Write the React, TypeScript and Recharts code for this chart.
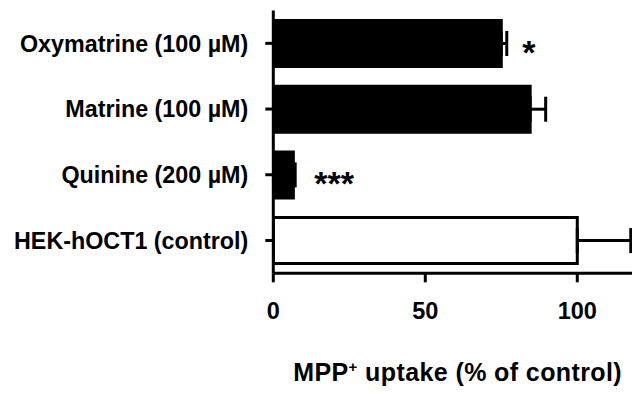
import React from 'react';
import { BarChart, Bar, XAxis, YAxis, ErrorBar, Cell, LabelList, Label } from 'recharts';

const categories = ['Oxymatrine (100 µM)', 'Matrine (100 µM)', 'Quinine (200 µM)', 'HEK-hOCT1 (control)'];
const uptake = [75.0, 84.5, 6.6, 100];
const errorUp = [1.8, 5.1, 0.6, 17.6];
const significance = ['*', '', '***', ''];
const barFills = ['#000000', '#000000', '#000000', '#ffffff'];
const xTicks = [0, 50, 100];

const data = categories.map((name, i) => ({
  name,
  value: uptake[i],
  err: [0, errorUp[i]],
  sig: significance[i],
}));

const FONT = '"Liberation Sans", Arial, Helvetica, sans-serif';

const YTick = (props: any) => {
  const { x, y, payload } = props;
  return (
    <text x={x} y={y} dy="0.36em" textAnchor="end" fontFamily={FONT} fontWeight="bold" fontSize={23.3} fill="#000">
      {payload.value}
    </text>
  );
};

const XTick = (props: any) => {
  const { x, y, payload } = props;
  return (
    <text x={x} y={y} dy="0.71em" textAnchor="middle" fontFamily={FONT} fontWeight="bold" fontSize={23.5} fill="#000">
      {payload.value}
    </text>
  );
};

const Title = (props: any) => {
  const vb = props.viewBox || { x: 0, y: 0, width: 0, height: 0 };
  const cx = vb.x + vb.width / 2 + 5;
  const by = vb.y + 108;
  return (
    <text x={cx} y={by} textAnchor="middle" fontFamily={FONT} fontWeight="bold" fontSize={25} letterSpacing={0.4} fill="#000">
      <tspan>MPP</tspan>
      <tspan fontSize={15} dy={-9}>+</tspan>
      <tspan dy={9}> uptake (% of control)</tspan>
    </text>
  );
};

const Sig = (props: any) => {
  const { x, y, width, height, value } = props;
  if (!value) return null;
  return (
    <text x={x + width + 21} y={y + height / 2 + 20} textAnchor="start" fontFamily={FONT} fontWeight="bold" fontSize={34} fill="#000">
      {value}
    </text>
  );
};

export default function App() {
  return (
    <div style={{ position: 'absolute', left: 0, top: 0, width: 632, height: 394, background: '#fff' }}>
      <BarChart
        width={632}
        height={394}
        data={data}
        layout="vertical"
        margin={{ top: 10.5, right: 0, bottom: 0, left: 0 }}
        barSize={46}
      >
        <XAxis
          type="number"
          domain={[0, 118]}
          allowDataOverflow
          ticks={xTicks}
          height={120.7}
          tickSize={9}
          tickMargin={20}
          axisLine={{ stroke: '#000', strokeWidth: 3 }}
          tickLine={{ stroke: '#000', strokeWidth: 3 }}
          tick={<XTick />}
        >
          <Label content={<Title />} />
        </XAxis>
        <YAxis
          type="category"
          dataKey="name"
          width={273.3}
          tickSize={8}
          tickMargin={17}
          axisLine={{ stroke: '#000', strokeWidth: 3 }}
          tickLine={{ stroke: '#000', strokeWidth: 3 }}
          tick={<YTick />}
          interval={0}
        />
        <Bar dataKey="value" stroke="#000" strokeWidth={3} isAnimationActive={false}>
          {data.map((d, i) => (
            <Cell key={d.name} fill={barFills[i]} />
          ))}
          <ErrorBar dataKey="err" direction="x" width={12.5} stroke="#000" strokeWidth={3} isAnimationActive={false} />
          <LabelList dataKey="sig" content={<Sig />} />
        </Bar>
      </BarChart>
    </div>
  );
}
